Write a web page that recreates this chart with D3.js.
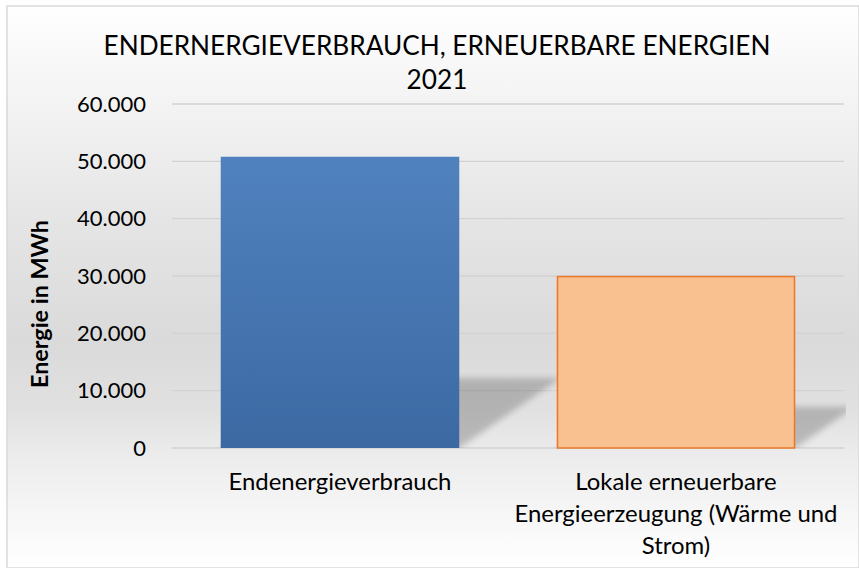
<!DOCTYPE html>
<html>
<head>
<meta charset="utf-8">
<script src="https://cdn.jsdelivr.net/npm/d3@7/dist/d3.min.js"></script>
<style>
  html, body { margin: 0; padding: 0; background: #ffffff; }
  svg { display: block; }
  text { font-family: Lato, "Open Sans", sans-serif; fill: #000; }
</style>
</head>
<body>
<svg id="chart" width="859" height="568"></svg>
<script>
// ---- data ----
const titleLines = ["ENDERNERGIEVERBRAUCH, ERNEUERBARE ENERGIEN", "2021"];
const categories = ["Endenergieverbrauch", "Lokale erneuerbare Energieerzeugung (Wärme und Strom)"];
const categoryLines = [["Endenergieverbrauch"], ["Lokale erneuerbare", "Energieerzeugung (Wärme und", "Strom)"]];
const values = [50800, 29900];
const yTicks = [0, 10000, 20000, 30000, 40000, 50000, 60000];
const yAxisTitle = "Energie in MWh";

// ---- layout ----
const W = 859, H = 568;
const plot = { left: 172, right: 844, top: 104, bottom: 448 };
const svg = d3.select("#chart");
const defs = svg.append("defs");

// background gradient
const bg = defs.append("linearGradient").attr("id", "bg").attr("x1", 0).attr("y1", 0).attr("x2", 0).attr("y2", 1);
[[0, "#ffffff"], [0.16, "#f4f4f4"], [0.38, "#e5e5e5"], [0.6, "#dadada"], [0.72, "#e1e1e1"], [0.8, "#ececec"], [0.9, "#f6f6f6"], [1, "#ffffff"]]
  .forEach(([o, c]) => bg.append("stop").attr("offset", o).attr("stop-color", c));

const blueGrad = defs.append("linearGradient").attr("id", "blue").attr("x1", 0).attr("y1", 0).attr("x2", 0).attr("y2", 1);
blueGrad.append("stop").attr("offset", 0).attr("stop-color", "#5082bf");
blueGrad.append("stop").attr("offset", 1).attr("stop-color", "#3c69a2");

defs.append("filter").attr("id", "blur").attr("x", "-20%").attr("y", "-20%").attr("width", "140%").attr("height", "140%")
  .append("feGaussianBlur").attr("stdDeviation", 3);
defs.append("clipPath").attr("id", "plotclip").append("rect")
  .attr("x", plot.left).attr("y", plot.top - 10).attr("width", plot.right - plot.left + 2).attr("height", plot.bottom - plot.top + 10);

svg.append("rect").attr("x", 7).attr("y", 6).attr("width", W - 7).attr("height", H - 6)
  .attr("fill", "url(#bg)").attr("stroke", "#d9d9d9").attr("stroke-width", 1.5);

// scales
const x = d3.scaleBand().domain(categories).range([plot.left, plot.right]).paddingInner(0.29).paddingOuter(0.145);
const y = d3.scaleLinear().domain([0, 60000]).range([plot.bottom, plot.top]);
const fmt = v => v === 0 ? "0" : d3.format(",")(v).replace(/,/g, ".");

// gridlines
svg.append("g").selectAll("line").data(yTicks).join("line")
  .attr("x1", plot.left).attr("x2", plot.right)
  .attr("y1", d => y(d)).attr("y2", d => y(d))
  .attr("stroke", "#d2d2d2").attr("stroke-width", 1.3);

// shadows (perspective, upper right)
const shadowG = svg.append("g").attr("clip-path", "url(#plotclip)");
shadowG.selectAll("path").data(values).join("path")
  .attr("d", (d, i) => {
    const x0 = x(categories[i]), x1 = x0 + x.bandwidth();
    const h = (y(0) - y(d)) * 0.24;
    const dx = h * 1.45;
    return `M${x0},${y(0)} L${x1},${y(0)} L${x1 + dx},${y(0) - h} L${x0 + dx},${y(0) - h} Z`;
  })
  .attr("fill", "#000").attr("opacity", 0.2).attr("filter", "url(#blur)");

// bars
svg.append("g").selectAll("rect").data(values).join("rect")
  .attr("x", (d, i) => x(categories[i]) + (i === 1 ? 0.75 : 0))
  .attr("y", d => y(d))
  .attr("width", (d, i) => x.bandwidth() - (i === 1 ? 1.5 : 0))
  .attr("height", d => y(0) - y(d))
  .attr("fill", (d, i) => i === 0 ? "url(#blue)" : "#f9c18f")
  .attr("stroke", (d, i) => i === 0 ? "none" : "#e8772b")
  .attr("stroke-width", 1.5);

// helper to fit font size to target width
function fitSize(sel, target) {
  const base = parseFloat(sel.attr("font-size"));
  const w = sel.node().getComputedTextLength();
  return base * target / w;
}

// title
const t1 = svg.append("text").attr("x", 437).attr("y", 55).attr("text-anchor", "middle")
  .attr("font-size", 24).text(titleLines[0]);
const titleSize = fitSize(t1, 667);
t1.attr("font-size", titleSize);
svg.append("text").attr("x", 437).attr("y", 89).attr("text-anchor", "middle")
  .attr("font-size", titleSize).text(titleLines[1]);

// label size from category label width
const probe = svg.append("text").attr("font-size", 20).text(categoryLines[0][0]);
const labSize = fitSize(probe, 223);
probe.remove();
const probe2 = svg.append("text").attr("font-size", 20).text(fmt(60000));
const tickSize = fitSize(probe2, 69);
probe2.remove();

// y tick labels
svg.append("g").selectAll("text").data(yTicks).join("text")
  .attr("x", 146).attr("y", d => y(d)).attr("dy", "0.35em").attr("text-anchor", "end")
  .attr("font-size", tickSize).text(fmt);

// category labels
categoryLines.forEach((lines, i) => {
  const cx = x(categories[i]) + x.bandwidth() / 2;
  lines.forEach((ln, j) => {
    svg.append("text").attr("x", cx).attr("y", 490 + j * 32).attr("text-anchor", "middle")
      .attr("font-size", labSize).text(ln);
  });
});

// y axis title
const at = svg.append("text").attr("transform", "translate(48,304) rotate(-90)").attr("text-anchor", "middle")
  .attr("font-size", 20).attr("font-weight", "bold").text(yAxisTitle);
at.attr("font-size", fitSize(at, 168));
</script>
</body>
</html>
